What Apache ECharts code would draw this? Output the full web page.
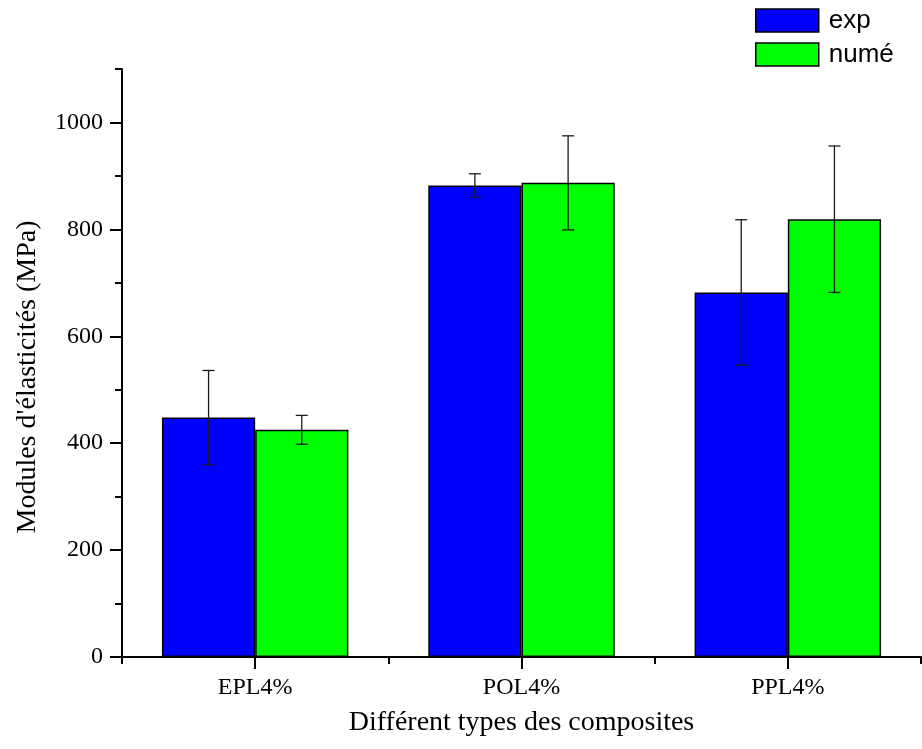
<!DOCTYPE html>
<html>
<head>
<meta charset="utf-8">
<script src="https://cdn.jsdelivr.net/npm/echarts@6/dist/echarts.min.js"></script>
<style>
  html, body { margin: 0; padding: 0; background: #fff; }
  #chart { width: 922px; height: 749px; }
</style>
</head>
<body>
<div id="chart"></div>
<script>
// Composite types on the horizontal axis
const categories = ['EPL4%', 'POL4%', 'PPL4%'];
// Elastic modulus (MPa): experimental and numerical
const expValues = [448, 882, 682];
const numeValues = [425, 887, 819];
// Error bar half-lengths (MPa)
const expErrors = [88, 22, 136];
const numeErrors = [27, 88, 137];
// Y axis ticks
const yMajorTicks = [0, 200, 400, 600, 800, 1000];
const yMinorTicks = [100, 300, 500, 700, 900, 1100];

const serif = 'Liberation Serif, Times New Roman, serif';
const sans = 'Liberation Sans, Arial, sans-serif';

const chart = echarts.init(document.getElementById('chart'), null, { renderer: 'canvas' });

function errorRenderer(offsetFactor) {
  return function (params, api) {
    const ci = api.value(0);
    const v = api.value(1);
    const e = api.value(2);
    const band = api.size([1, 0])[0];
    const top = api.coord([ci, v + e]);
    const bot = api.coord([ci, v - e]);
    const x = top[0] + offsetFactor * band;
    const cap = 6;
    const style = { stroke: '#1a1a1a', lineWidth: 1.3 };
    return {
      type: 'group',
      children: [
        { type: 'line', shape: { x1: x, y1: top[1], x2: x, y2: bot[1] }, style },
        { type: 'line', shape: { x1: x - cap, y1: top[1], x2: x + cap, y2: top[1] }, style },
        { type: 'line', shape: { x1: x - cap, y1: bot[1], x2: x + cap, y2: bot[1] }, style }
      ]
    };
  };
}

const option = {
  animation: false,
  backgroundColor: '#ffffff',
  grid: { left: 122, right: 1, top: 69, bottom: 92 },
  legend: {
    orient: 'vertical',
    left: 755,
    top: 5.5,
    padding: 0,
    itemWidth: 63,
    itemHeight: 23,
    itemGap: 4,
    icon: 'rect',
    data: ['exp', 'numé'],
    itemStyle: { borderColor: '#000', borderWidth: 1.5 },
    textStyle: { fontFamily: sans, fontSize: 26, lineHeight: 24, color: '#000', padding: [6, 0, 0, 5] }
  },
  xAxis: [
    {
      type: 'category',
      data: categories,
      position: 'bottom',
      axisLine: { show: true, onZero: false, lineStyle: { color: '#000', width: 2 } },
      axisTick: { show: true, alignWithLabel: true, length: 12, lineStyle: { color: '#000', width: 2 } },
      axisLabel: { fontFamily: serif, fontSize: 24, color: '#000', margin: 19 },
      splitLine: { show: false },
      name: 'Différent types des composites',
      nameLocation: 'middle',
      nameGap: 52,
      nameMoveOverlap: false,
      nameTextStyle: { fontFamily: serif, fontSize: 28, color: '#000' }
    },
    {
      type: 'category',
      data: categories,
      position: 'bottom',
      axisLine: { show: false },
      axisTick: { show: true, length: 7, lineStyle: { color: '#000', width: 2 } },
      axisLabel: { show: false },
      splitLine: { show: false }
    }
  ],
  yAxis: [
    {
      type: 'value',
      min: 0,
      max: 1100,
      interval: 100,
      axisLine: { show: true, lineStyle: { color: '#000', width: 2 } },
      axisTick: { show: true, length: 12, customValues: yMajorTicks, lineStyle: { color: '#000', width: 2 } },
      axisLabel: {
        fontFamily: serif, fontSize: 24, color: '#000', margin: 19,
        customValues: yMajorTicks,
        formatter: (v) => String(v)
      },
      splitLine: { show: false }
    },
    {
      type: 'value',
      min: 0,
      max: 1100,
      interval: 100,
      position: 'left',
      axisLine: { show: false },
      axisTick: { show: true, length: 7, customValues: yMinorTicks, lineStyle: { color: '#000', width: 2 } },
      axisLabel: { show: false },
      splitLine: { show: false }
    }
  ],
  graphic: [
    {
      type: 'text',
      x: 28,
      y: 377,
      rotation: Math.PI / 2,
      style: {
        text: "Modules d'élasticités (MPa)",
        fontFamily: serif,
        fontSize: 28,
        fill: '#000',
        align: 'center',
        verticalAlign: 'middle'
      }
    }
  ],
  series: [
    {
      name: 'exp',
      type: 'bar',
      data: expValues,
      barGap: '0%',
      barCategoryGap: '30%',
      itemStyle: { color: '#0000ff', borderColor: '#000', borderWidth: 1.5 }
    },
    {
      name: 'numé',
      type: 'bar',
      data: numeValues,
      barGap: '0%',
      barCategoryGap: '30%',
      itemStyle: { color: '#00ff00', borderColor: '#000', borderWidth: 1.5 }
    },
    {
      type: 'custom',
      renderItem: errorRenderer(-0.175),
      data: categories.map((c, i) => [i, expValues[i], expErrors[i]]),
      z: 10,
      silent: true
    },
    {
      type: 'custom',
      renderItem: errorRenderer(0.175),
      data: categories.map((c, i) => [i, numeValues[i], numeErrors[i]]),
      z: 10,
      silent: true
    }
  ]
};

chart.setOption(option);
</script>
</body>
</html>
